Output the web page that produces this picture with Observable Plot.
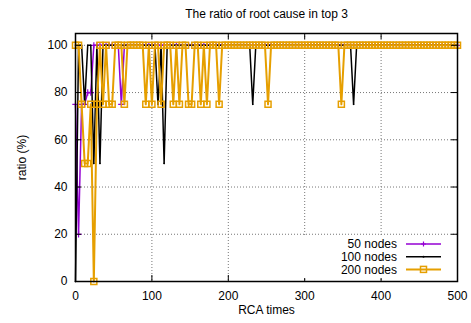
<!DOCTYPE html>
<html><head><meta charset="utf-8">
<script src="https://cdn.jsdelivr.net/npm/d3@7"></script>
<script src="https://cdn.jsdelivr.net/npm/@observablehq/plot@0.6"></script>
<style>body{margin:0;background:#fff}</style>
</head><body><div id="chart"></div>
<script>
const title = "The ratio of root cause in top 3";
const xLabel = "RCA times";
const yLabel = "ratio (%)";
const seriesNames = ["50 nodes", "100 nodes", "200 nodes"];
const seriesColors = ["#9400d3", "#000000", "#e69f00"];
const xTicks = [0, 100, 200, 300, 400, 500];
const yTicks = [0, 20, 40, 60, 80, 100];

const rcaTimes = [
0,4,8,12,16,20,24,28,32,36,
40,44,48,52,56,60,64,68,72,76,
80,84,88,92,96,100,104,108,112,116,
120,124,128,132,136,140,144,148,152,156,
160,164,168,172,176,180,184,188,192,196,
200,204,208,212,216,220,224,228,232,236,
240,244,248,252,256,260,264,268,272,276,
280,284,288,292,296,300,304,308,312,316,
320,324,328,332,336,340,344,348,352,356,
360,364,368,372,376,380,384,388,392,396,
400,404,408,412,416,420,424,428,432,436,
440,444,448,452,456,460,464,468,472,476,
480,484,488,492,496,500];

const ratio50 = [
75,20,75,75,80,80,100,100,100,100,
100,100,100,100,100,75,100,100,100,100,
100,100,100,100,100,100,100,100,100,100,
100,100,100,100,100,100,100,100,100,100,
100,100,100,100,100,100,100,100,100,100,
100,100,100,100,100,100,100,100,100,100,
100,100,100,100,100,100,100,100,100,100,
100,100,100,100,100,100,100,100,100,100,
100,100,100,100,100,100,100,100,100,100,
100,100,100,100,100,100,100,100,100,100,
100,100,100,100,100,100,100,100,100,100,
100,100,100,100,100,100,100,100,100,100,
100,100,100,100,100,100];

const ratio100 = [
0,100,100,75,100,100,50,100,50,100,
100,100,100,100,100,100,100,100,100,100,
100,100,100,100,100,100,100,75,100,50,
100,100,100,100,100,100,100,100,100,100,
100,100,100,100,100,100,100,100,100,100,
100,100,100,100,100,100,100,100,75,100,
100,100,100,100,100,100,100,100,100,100,
100,100,100,100,100,100,100,100,100,100,
100,100,100,100,100,100,100,100,100,100,
100,75,100,100,100,100,100,100,100,100,
100,100,100,100,100,100,100,100,100,100,
100,100,100,100,100,100,100,100,100,100,
100,100,100,100,100,100];

const ratio200 = [
100,100,75,50,50,75,0,75,100,75,
100,75,75,100,100,100,75,100,100,100,
100,100,100,75,100,75,100,100,75,100,
100,100,75,100,75,100,100,75,75,100,
100,75,100,75,100,100,100,75,100,100,
100,100,100,100,100,100,100,100,100,100,
100,100,100,75,100,100,100,100,100,100,
100,100,100,100,100,100,100,100,100,100,
100,100,100,100,100,100,100,75,100,100,
100,100,100,100,100,100,100,100,100,100,
100,100,100,100,100,100,100,100,100,100,
100,100,100,100,100,100,100,100,100,100,
100,100,100,100,100,100];

const rows = (vals) => rcaTimes.map((x, i) => ({x, y: vals[i]}));
const d50 = rows(ratio50), d100 = rows(ratio100), d200 = rows(ratio200);

function legend(index, scales, values, dims) {
  const right = dims.width - dims.marginRight;
  const bottom = dims.height - dims.marginBottom;
  const g = d3.create("svg:g");
  g.append("rect").attr("x", right - 158).attr("y", bottom - 44)
    .attr("width", 156).attr("height", 41).attr("fill", "white");
  seriesNames.forEach((name, k) => {
    const y = bottom - 37 + k * 12.7;
    g.append("text").attr("x", right - 60).attr("y", y).attr("dy", "0.35em")
      .attr("text-anchor", "end").attr("fill", "black").text(name);
    g.append("line").attr("x1", right - 51).attr("x2", right - 16)
      .attr("y1", y).attr("y2", y).attr("stroke", seriesColors[k])
      .attr("stroke-width", k === 2 ? 2 : 1.5);
    const cx = right - 33.5;
    if (k === 0) g.append("path").attr("d", `M${cx-2.5},${y}H${cx+2.5}M${cx},${y-2.5}V${y+2.5}`)
      .attr("stroke", seriesColors[0]).attr("stroke-width", 1.2);
    if (k === 1) g.append("circle").attr("cx", cx).attr("cy", y).attr("r", 1).attr("fill", "black");
    if (k === 2) g.append("rect").attr("x", cx - 3).attr("y", y - 3).attr("width", 6).attr("height", 6)
      .attr("fill", "none").attr("stroke", seriesColors[2]).attr("stroke-width", 1.5);
  });
  return g.node();
}

const chart = Plot.plot({
  width: 471,
  height: 323,
  marginLeft: 75,
  marginRight: 14,
  marginTop: 33,
  marginBottom: 42,
  style: {fontFamily: "'Liberation Sans', Arial, sans-serif", fontSize: "12px", background: "white", color: "black"},
  x: {domain: [0, 500], ticks: xTicks, tickSize: 0, tickPadding: 10, label: null},
  y: {domain: [0, 105], ticks: yTicks, tickSize: 0, tickPadding: 8, label: null},
  marks: [
    Plot.ruleX(xTicks, {stroke: "#777", strokeWidth: 1, strokeDasharray: "1,2"}),
    Plot.ruleY(yTicks, {stroke: "#777", strokeWidth: 1, strokeDasharray: "1,2"}),
    Plot.line(d50, {x: "x", y: "y", stroke: seriesColors[0], strokeWidth: 1.5}),
    Plot.dot(d50, {x: "x", y: "y", symbol: "plus", r: 2.2, stroke: seriesColors[0], strokeWidth: 1.2}),
    Plot.line(d100, {x: "x", y: "y", stroke: seriesColors[1], strokeWidth: 1.5}),
    Plot.dot(d100, {x: "x", y: "y", r: 0.8, fill: seriesColors[1], stroke: null}),
    Plot.line(d200, {x: "x", y: "y", stroke: seriesColors[2], strokeWidth: 2}),
    Plot.dot(d200, {x: "x", y: "y", symbol: "square", r: 3.4, fill: "none", stroke: seriesColors[2], strokeWidth: 1.5}),
    Plot.frame({stroke: "black", strokeWidth: 1.5}),
    Plot.tickX(xTicks, {x: d => d, insetTop: 242, stroke: "black", strokeWidth: 1}),
    Plot.tickX(xTicks, {x: d => d, insetBottom: 242, stroke: "black", strokeWidth: 1}),
    Plot.tickY(yTicks, {y: d => d, insetLeft: 376, stroke: "black", strokeWidth: 1}),
    Plot.tickY(yTicks, {y: d => d, insetRight: 376, stroke: "black", strokeWidth: 1}),
    legend,
    Plot.text([title], {frameAnchor: "top", dy: -19, lineAnchor: "middle", fontSize: 12}),
    Plot.text([xLabel], {frameAnchor: "bottom", dy: 29, lineAnchor: "middle", fontSize: 12}),
    Plot.text([yLabel], {frameAnchor: "left", dx: -53, rotate: -90, lineAnchor: "middle", textAnchor: "middle", fontSize: 12})
  ]
});
document.getElementById("chart").append(chart);
</script>
</body></html>
